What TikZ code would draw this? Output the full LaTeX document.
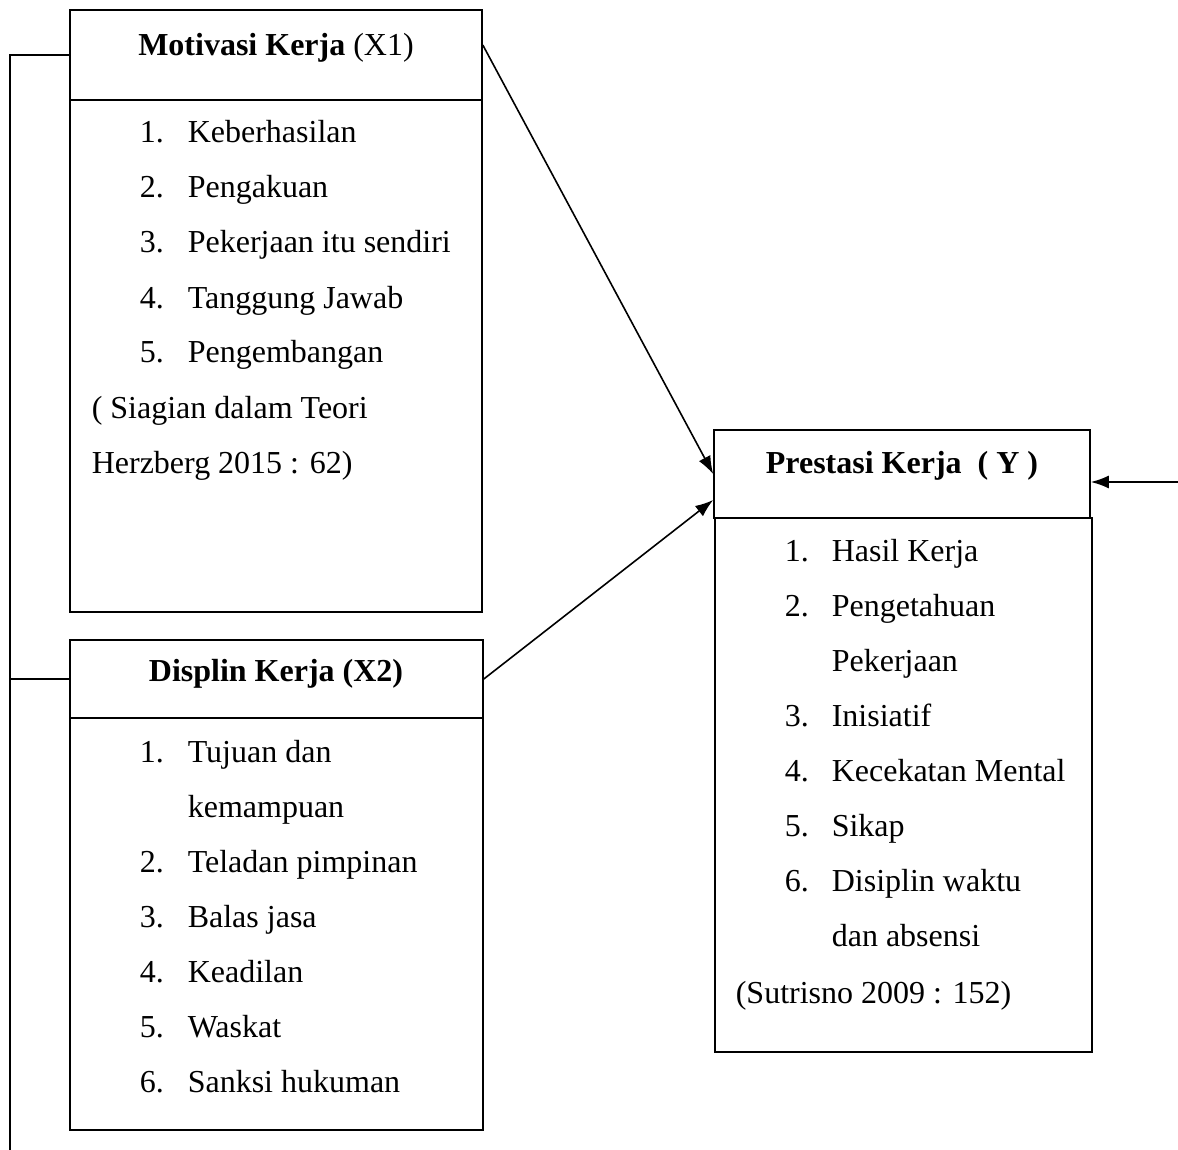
\documentclass[tikz,border=0pt]{standalone}
\usepackage{fontspec}
\setmainfont{Liberation Serif}
\usetikzlibrary{arrows.meta, positioning}

\begin{document}
\begin{tikzpicture}[x=0.5pt, y=-0.5pt, line width=0.8pt,
    box/.style={draw, minimum width=206pt, inner sep=0pt},
    txt/.style={anchor=base west, inner sep=0pt, font=\fontsize{16}{20}\selectfont},
    ttl/.style={inner sep=0pt, font=\fontsize{16}{20}\selectfont},
    arr/.style={-{Latex[length=9pt, width=6.5pt]}}]
    \useasboundingbox (0,0) rectangle (1178,1150);

    % Motivasi Kerja
    \node[box, minimum height=45pt] (x1h) at (276,55) {};
    \node[box, minimum height=256pt] (x1b) at (276,356) {};
    \node[ttl] (x1t) at (276,48) {\textbf{Motivasi Kerja} (X1)};
    \foreach \n/\t [count=\k] in {1./Keberhasilan, 2./Pengakuan, 3./Pekerjaan itu sendiri, 4./Tanggung Jawab, 5./Pengembangan} {
        \node[txt] (x1n\k) at (139,{143+55*(\k-1)}) {\n};
        \node[txt] (x1i\k) at (187,{143+55*(\k-1)}) {\t};
    }
    \node[txt] (x1s1) at (91,418) {( Siagian dalam Teori};
    \node[txt] (x1s2) at (91,473) {Herzberg 2015 : 62)};

    % Displin Kerja
    \node[box, minimum height=39pt, minimum width=206.5pt] (x2h) at (276.5,679) {};
    \node[box, minimum height=206pt, minimum width=206.5pt] (x2b) at (276.5,924) {};
    \node[ttl] (x2t) at (276,674) {\textbf{Displin Kerja (X2)}};
    \foreach \n/\t [count=\k] in {1./Tujuan dan, {}/kemampuan, 2./Teladan pimpinan, 3./Balas jasa, 4./Keadilan, 5./Waskat, 6./Sanksi hukuman} {
        \node[txt] (x2n\k) at (139,{762+55*(\k-1)}) {\n};
        \node[txt] (x2i\k) at (187,{762+55*(\k-1)}) {\t};
    }

    % Prestasi Kerja
    \node[box, minimum height=44pt, minimum width=188pt] (yh) at (902,474) {};
    \node[box, minimum height=267pt, minimum width=188.5pt] (yb) at (903.5,785) {};
    \node[ttl] (yt) at (902,466) {\textbf{Prestasi Kerja\ \ ( Y )}};
    \foreach \n/\t [count=\k] in {1./Hasil Kerja, 2./Pengetahuan, {}/Pekerjaan, 3./Inisiatif, 4./Kecekatan Mental, 5./Sikap, 6./Disiplin waktu, {}/dan absensi} {
        \node[txt] (yn\k) at (784,{561+55*(\k-1)}) {\n};
        \node[txt] (yi\k) at (831,{561+55*(\k-1)}) {\t};
    }
    \node[txt] (ys) at (735,1003) {(Sutrisno 2009 : 152)};

    % Connectors
    \coordinate (lt) at (10,55);
    \coordinate (lb) at (10,1150);
    \coordinate (rin) at (1178,482);
    \draw (x1h.west) -- (lt) -- (lb);
    \draw (x2h.west) -- (x2h.west -| lt);
    \draw[arr] ([yshift=5pt]x1h.east) -- (yh.west);
    \draw[arr] (x2h.east) -- ([yshift=-13pt]yh.west);
    \draw[arr] (rin) -- (rin -| yh.east);
\end{tikzpicture}
\end{document}
